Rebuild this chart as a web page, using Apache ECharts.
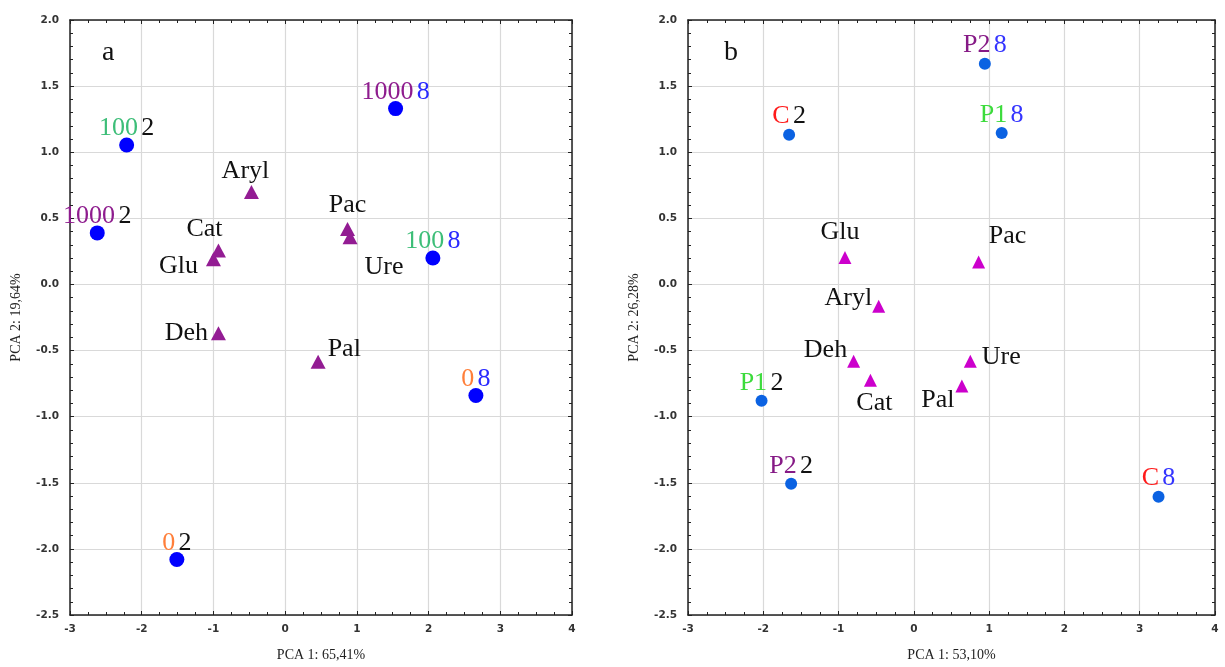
<!DOCTYPE html>
<html><head><meta charset="utf-8">
<script src="https://cdn.jsdelivr.net/npm/echarts@6/dist/echarts.min.js"></script>
<style>html,body{margin:0;padding:0;background:#fff}#c{width:1225px;height:667px}</style>
</head><body><div id="c"></div>
<script>
// ---------- DATA: panel a ----------
const aSampleDose = ['100', '1000', '1000', '100', '0', '0'];
const aSampleTime = ['2', '2', '8', '8', '8', '2'];
const aSampleX = [-2.21, -2.62, 1.54, 2.06, 2.66, -1.51];
const aSampleY = [1.055, 0.39, 1.33, 0.20, -0.84, -2.08];
const aEnzymes = ['Aryl', 'Cat', 'Glu', 'Pac', 'Ure', 'Deh', 'Pal'];
const aEnzX = [-0.47, -0.93, -1.00, 0.87, 0.905, -0.93, 0.46];
const aEnzY = [0.70, 0.256, 0.19, 0.42, 0.357, -0.37, -0.585];
// ---------- DATA: panel b ----------
const bSampleTreat = ['P2', 'C', 'P1', 'P1', 'P2', 'C'];
const bSampleTime = ['8', '2', '8', '2', '2', '8'];
const bSampleX = [0.943, -1.657, 1.167, -2.023, -1.63, 3.25];
const bSampleY = [1.67, 1.133, 1.145, -0.88, -1.507, -1.605];
const bEnzymes = ['Glu', 'Pac', 'Aryl', 'Deh', 'Cat', 'Ure', 'Pal'];
const bEnzX = [-0.915, 0.86, -0.467, -0.80, -0.577, 0.75, 0.638];
const bEnzY = [0.203, 0.17, -0.165, -0.58, -0.725, -0.58, -0.7675];
// ---------- axes / titles ----------
const xMin = -3, xMax = 4, xStep = 1;
const yMin = -2.5, yMax = 2.0, yStep = 0.5;
const xTitles = ['PCA 1: 65,41%', 'PCA 1: 53,10%'];
const yTitles = ['PCA 2: 19,64%', 'PCA 2: 26,28%'];
const panelLetters = ['a', 'b'];

// ---------- styles ----------
const SERIF = '"Liberation Serif", "Times New Roman", serif';
const LBL = 26;
const aDoseColor = {'0': '#FF7F3A', '100': '#3DBE78', '1000': '#8E1C8E'};
const bTreatColor = {'C': '#FF1A1A', 'P1': '#3CDB3C', 'P2': '#861A86'};
const timeColorA = {'2': '#111111', '8': '#2A2AFF'};
const timeColorB = {'2': '#111111', '8': '#3535FF'};

const aEnzLabel = {
  Aryl: {position: 'top', distance: 1, offset: [-6, 0]},
  Cat: {position: 'top', distance: 1, offset: [-14, 0]},
  Glu: {position: 'left', distance: 8, offset: [0, 7]},
  Pac: {position: 'top', distance: 4, offset: [0, 0]},
  Ure: {position: 'right', distance: 7, offset: [0, 30]},
  Deh: {position: 'left', distance: 3, offset: [0, 0]},
  Pal: {position: 'right', distance: 2, offset: [0, -13]}
};
const bEnzLabel = {
  Glu: {position: 'top', distance: 6, offset: [-5, 0]},
  Pac: {position: 'top', distance: 6, offset: [29, 0]},
  Aryl: {position: 'left', distance: 0, offset: [0, -8]},
  Deh: {position: 'left', distance: 0, offset: [0, -11]},
  Cat: {position: 'bottom', distance: 3, offset: [4, 0]},
  Ure: {position: 'right', distance: 5, offset: [0, -4]},
  Pal: {position: 'left', distance: 1, offset: [0, 14]}
};

const grids = [
  {left: 70, top: 20, width: 502, height: 597},
  {left: 688, top: 20, width: 527, height: 597}
];

function mainX(gi) {
  return {
    type: 'value', gridIndex: gi, min: xMin, max: xMax, interval: xStep, position: 'bottom',
    name: xTitles[gi], nameLocation: 'middle', nameGap: 33,
    nameTextStyle: {fontFamily: SERIF, fontSize: 14, color: '#222'},
    axisLine: {show: true, onZero: false, lineStyle: {color: '#222', width: 1.5}},
    axisTick: {show: true, inside: true, length: 4, lineStyle: {color: '#222'}},
    minorTick: {show: true, splitNumber: 4, length: 3, lineStyle: {color: '#222'}},
    axisLabel: {fontFamily: 'DejaVu Sans', fontSize: 10.5, fontWeight: 'bold', color: '#333', margin: 9},
    splitLine: {show: true, lineStyle: {color: '#d9d9d9', width: 1.2}}
  };
}
function topX(gi) {
  return {
    type: 'value', gridIndex: gi, min: xMin, max: xMax, interval: xStep, position: 'top',
    axisLine: {show: true, onZero: false, lineStyle: {color: '#222', width: 1.5}},
    axisTick: {show: true, inside: true, length: 4, lineStyle: {color: '#222'}},
    minorTick: {show: true, splitNumber: 4, length: 3, lineStyle: {color: '#222'}},
    axisLabel: {show: false}, splitLine: {show: false}
  };
}
function mainY(gi) {
  return {
    type: 'value', gridIndex: gi, min: yMin, max: yMax, interval: yStep, position: 'left',
    name: yTitles[gi], nameLocation: 'middle', nameGap: 47, nameRotate: 90,
    nameTextStyle: {fontFamily: SERIF, fontSize: 14, color: '#222'},
    axisLine: {show: true, onZero: false, lineStyle: {color: '#222', width: 1.5}},
    axisTick: {show: true, inside: true, length: 4, lineStyle: {color: '#222'}},
    minorTick: {show: true, splitNumber: 5, length: 3, lineStyle: {color: '#222'}},
    axisLabel: {fontFamily: 'DejaVu Sans', fontSize: 10.5, fontWeight: 'bold', color: '#333', margin: 11,
      formatter: v => v.toFixed(1)},
    splitLine: {show: true, lineStyle: {color: '#d9d9d9', width: 1.2}}
  };
}
function rightY(gi) {
  return {
    type: 'value', gridIndex: gi, min: yMin, max: yMax, interval: yStep, position: 'right',
    axisLine: {show: true, onZero: false, lineStyle: {color: '#222', width: 1.5}},
    axisTick: {show: true, inside: true, length: 4, lineStyle: {color: '#222'}},
    minorTick: {show: true, splitNumber: 5, length: 3, lineStyle: {color: '#222'}},
    axisLabel: {show: false}, splitLine: {show: false}
  };
}

function sampleData(xs, ys, groups, times) {
  return xs.map((x, i) => ({value: [x, ys[i]], g: groups[i], t: times[i]}));
}
function enzData(xs, ys, names, layout) {
  return xs.map((x, i) => ({value: [x, ys[i]], name: names[i], label: layout[names[i]]}));
}

const richA = {t2: {color: timeColorA['2'], fontFamily: SERIF, fontSize: LBL}, t8: {color: timeColorA['8'], fontFamily: SERIF, fontSize: LBL}};
Object.keys(aDoseColor).forEach((k, i) => richA['d' + i] = {color: aDoseColor[k], fontFamily: SERIF, fontSize: LBL});
const aDoseKey = {}; Object.keys(aDoseColor).forEach((k, i) => aDoseKey[k] = 'd' + i);
const richB = {t2: {color: timeColorB['2'], fontFamily: SERIF, fontSize: LBL}, t8: {color: timeColorB['8'], fontFamily: SERIF, fontSize: LBL}};
Object.keys(bTreatColor).forEach((k, i) => richB['d' + i] = {color: bTreatColor[k], fontFamily: SERIF, fontSize: LBL});
const bTreatKey = {}; Object.keys(bTreatColor).forEach((k, i) => bTreatKey[k] = 'd' + i);

const option = {
  animation: false,
  backgroundColor: '#fff',
  title: [
    {text: panelLetters[0], left: 97, top: 34, textStyle: {fontFamily: SERIF, fontSize: 28, fontWeight: 'normal', color: '#111'}},
    {text: panelLetters[1], left: 719, top: 34, textStyle: {fontFamily: SERIF, fontSize: 28, fontWeight: 'normal', color: '#111'}}
  ],
  grid: grids,
  xAxis: [mainX(0), topX(0), mainX(1), topX(1)],
  yAxis: [mainY(0), rightY(0), mainY(1), rightY(1)],
  series: [
    {
      type: 'scatter', xAxisIndex: 0, yAxisIndex: 0, symbol: 'circle', symbolSize: 15,
      itemStyle: {color: '#0000FF', opacity: 1},
      data: sampleData(aSampleX, aSampleY, aSampleDose, aSampleTime),
      label: {show: true, position: 'top', distance: -4,
        formatter: p => '{' + aDoseKey[p.data.g] + '|' + p.data.g + '} {t' + p.data.t + '|' + p.data.t + '}',
        rich: richA}
    },
    {
      type: 'scatter', xAxisIndex: 0, yAxisIndex: 0, symbol: 'triangle', symbolSize: [15, 14],
      itemStyle: {color: '#931C93', opacity: 1},
      data: enzData(aEnzX, aEnzY, aEnzymes, aEnzLabel),
      label: {show: true, formatter: '{b}', fontFamily: SERIF, fontSize: LBL, color: '#111'}
    },
    {
      type: 'scatter', xAxisIndex: 2, yAxisIndex: 2, symbol: 'circle', symbolSize: 12,
      itemStyle: {color: '#0B62E2', opacity: 1},
      data: sampleData(bSampleX, bSampleY, bSampleTreat, bSampleTime),
      label: {show: true, position: 'top', distance: -1,
        formatter: p => '{' + bTreatKey[p.data.g] + '|' + p.data.g + '} {t' + p.data.t + '|' + p.data.t + '}',
        rich: richB}
    },
    {
      type: 'scatter', xAxisIndex: 2, yAxisIndex: 2, symbol: 'triangle', symbolSize: 13,
      itemStyle: {color: '#CC00CC', opacity: 1},
      data: enzData(bEnzX, bEnzY, bEnzymes, bEnzLabel),
      label: {show: true, formatter: '{b}', fontFamily: SERIF, fontSize: LBL, color: '#111'}
    }
  ]
};
const chart = echarts.init(document.getElementById('c'), null, {renderer: 'canvas'});
chart.setOption(option);
</script>
</body></html>
